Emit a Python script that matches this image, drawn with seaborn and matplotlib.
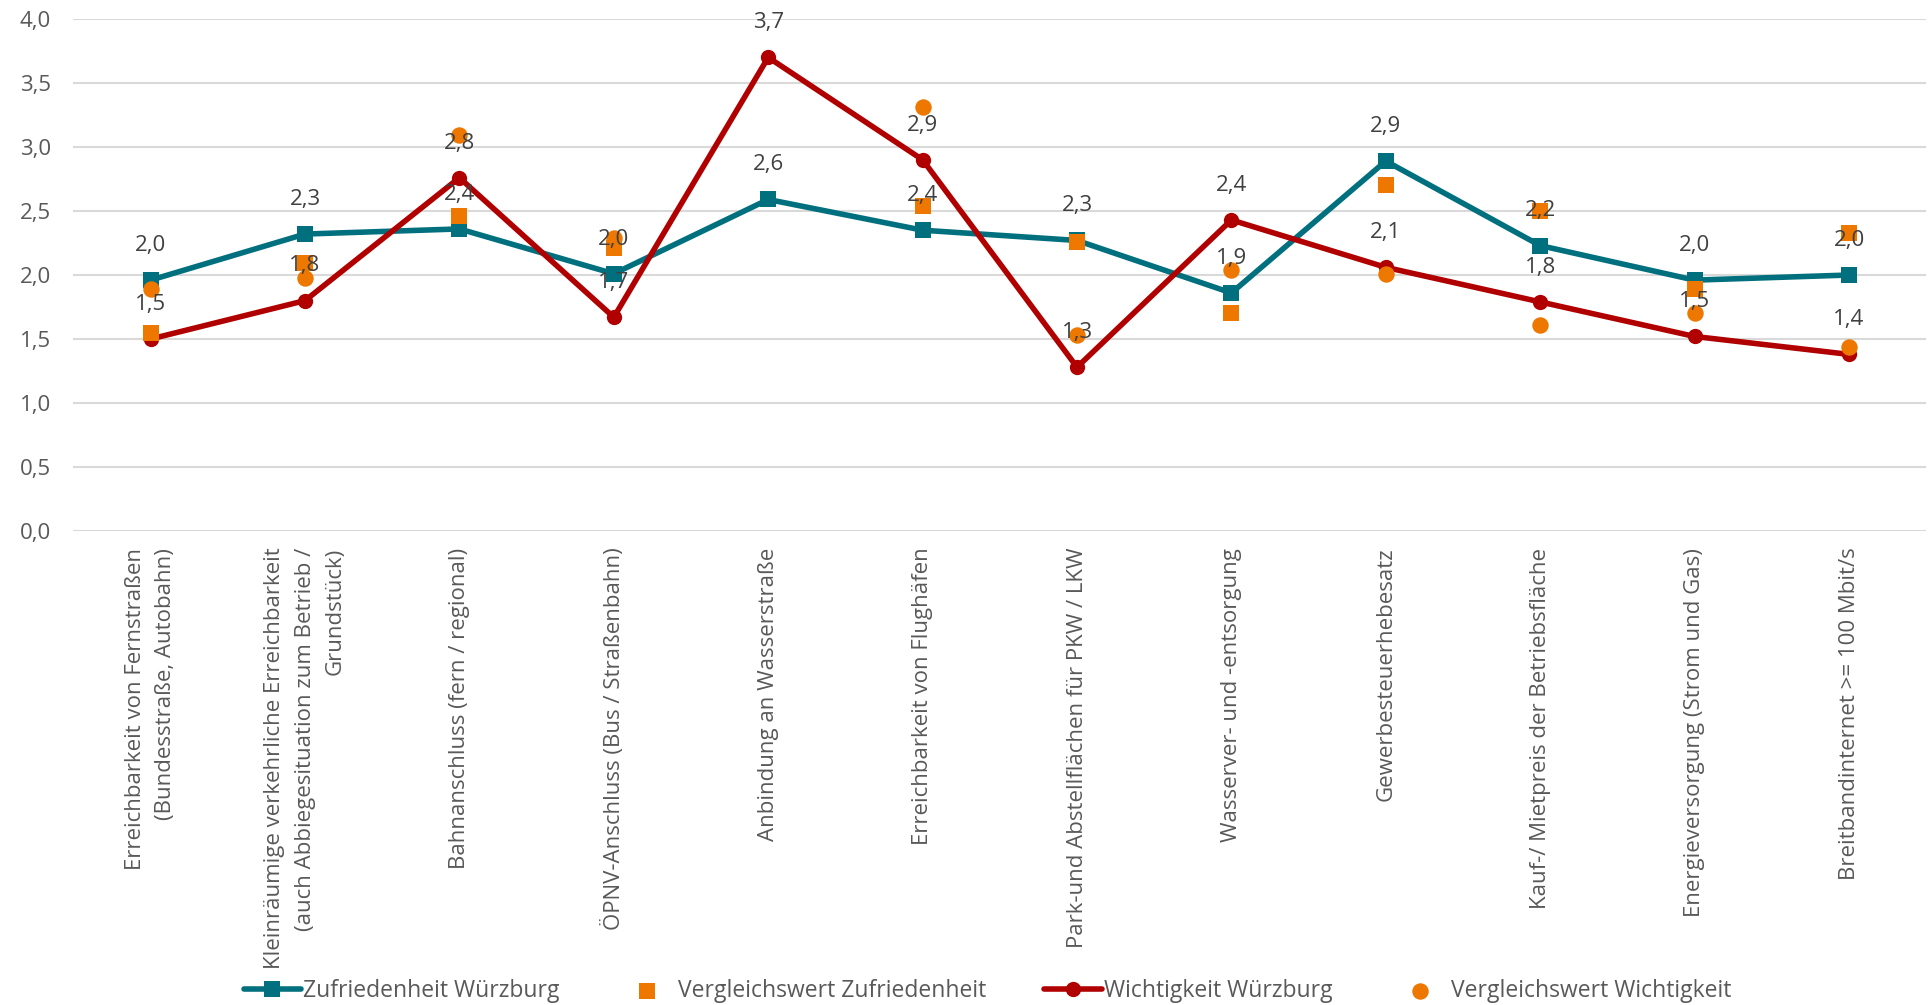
import numpy as np
import pandas as pd
import seaborn as sns
import matplotlib.pyplot as plt
from matplotlib.ticker import FuncFormatter

# Kategorien und Werte
categories = [
    "Erreichbarkeit von Fernstraßen\n(Bundesstraße, Autobahn)",
    "Kleinräumige verkehrliche Erreichbarkeit\n(auch Abbiegesituation zum Betrieb /\nGrundstück)",
    "Bahnanschluss (fern / regional)",
    "ÖPNV-Anschluss (Bus / Straßenbahn)",
    "Anbindung an Wasserstraße",
    "Erreichbarkeit von Flughäfen",
    "Park-und Abstellflächen für PKW / LKW",
    "Wasserver- und -entsorgung",
    "Gewerbesteuerhebesatz",
    "Kauf-/ Mietpreis der Betriebsfläche",
    "Energieversorgung (Strom und Gas)",
    "Breitbandinternet >= 100 Mbit/s",
]
zufriedenheit = [1.96, 2.32, 2.36, 2.01, 2.59, 2.35, 2.27, 1.86, 2.89, 2.23, 1.96, 2.00]
vergleich_zufriedenheit = [1.55, 2.09, 2.46, 2.21, np.nan, 2.54, 2.26, 1.70, 2.70, 2.50, 1.89, 2.33]
wichtigkeit = [1.50, 1.80, 2.76, 1.67, 3.70, 2.90, 1.28, 2.43, 2.06, 1.79, 1.52, 1.38]
vergleich_wichtigkeit = [1.89, 1.98, 3.09, 2.29, np.nan, 3.31, 1.53, 2.04, 2.01, 1.61, 1.70, 1.44]

teal = "#00707F"
red = "#B00000"
orange = "#EE7700"
text_col = "#404040"

sns.set_theme(style="white")
plt.rcParams["font.family"] = ["Open Sans", "DejaVu Sans"]

df = pd.DataFrame({
    "pos": np.arange(len(categories)),
    "zuf": zufriedenheit,
    "vzuf": vergleich_zufriedenheit,
    "wich": wichtigkeit,
    "vwich": vergleich_wichtigkeit,
})

fig = plt.figure(figsize=(19.32, 10.05), dpi=100)
ax = fig.add_axes([0.038, 0.4716, 0.959, 0.5095])

sns.lineplot(data=df, x="pos", y="zuf", ax=ax, color=teal, linewidth=4,
             marker="s", markersize=11, markeredgewidth=0, label="Zufriedenheit Würzburg", zorder=3)
sns.scatterplot(data=df, x="pos", y="vzuf", ax=ax, color=orange, marker="s", s=120,
                linewidth=0, label="Vergleichswert Zufriedenheit", zorder=4)
sns.lineplot(data=df, x="pos", y="wich", ax=ax, color=red, linewidth=4,
             marker="o", markersize=11, markeredgewidth=0, label="Wichtigkeit Würzburg", zorder=3)
sns.scatterplot(data=df, x="pos", y="vwich", ax=ax, color=orange, marker="o", s=140,
                linewidth=0, label="Vergleichswert Wichtigkeit", zorder=4)

# Datenbeschriftungen
for col in ["zuf", "wich"]:
    for x, y in zip(df["pos"], df[col]):
        ax.annotate(f"{y:.1f}".replace(".", ","), (x, y), xytext=(0, 25),
                    textcoords="offset points", ha="center", va="center",
                    fontsize=16, color=text_col, zorder=5)

ax.set_xlim(-0.5, len(categories) - 0.5)
ax.set_ylim(0, 4.0)
ax.set_yticks(np.arange(0, 4.01, 0.5))
ax.yaxis.set_major_formatter(FuncFormatter(lambda v, p: f"{v:.1f}".replace(".", ",")))
ax.set_xticks(df["pos"])
ax.set_xticklabels(categories, rotation=90, ha="center", va="top",
                   multialignment="right", fontsize=16, color="#595959",
                   linespacing=1.6)
ax.tick_params(axis="y", labelsize=16, labelcolor="#595959", length=0, pad=16)
ax.tick_params(axis="x", length=0, pad=12)
ax.grid(axis="y", color="#D9D9D9", linewidth=1.5)
ax.set_axisbelow(True)
for s in ax.spines.values():
    s.set_visible(False)
ax.set_xlabel("")
ax.set_ylabel("")

handles, labels = ax.get_legend_handles_labels()
ax.get_legend().remove()
fig.legend(handles, labels, loc="center", bbox_to_anchor=(0.511, 0.014), ncol=4,
           frameon=False, fontsize=16.5, labelcolor="#595959", columnspacing=2.55,
           handlelength=2.5, handletextpad=0.1)

fig.savefig("out.png", dpi=100, facecolor="white")
